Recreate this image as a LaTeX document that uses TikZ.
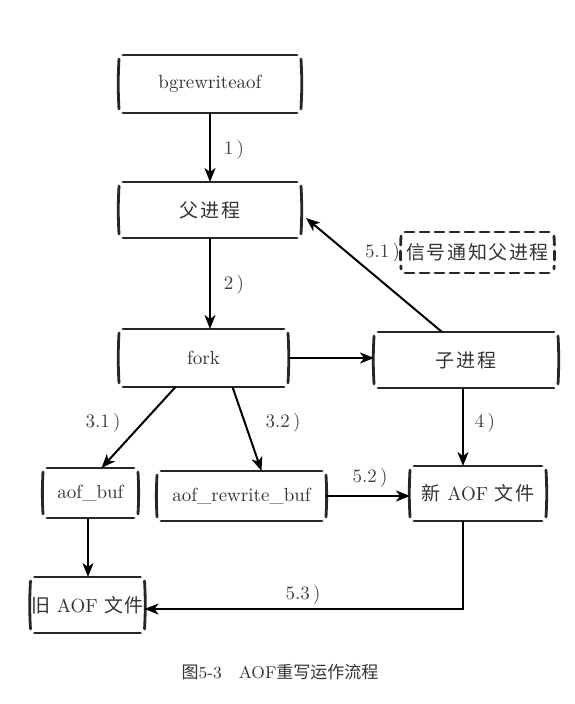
\documentclass[tikz,border=0pt]{standalone}
\usepackage{fontspec}
\newfontfamily\cjk{Noto Sans CJK SC}[LetterSpace=8]
\newfontfamily\capcjk{Noto Sans CJK SC}
\usetikzlibrary{arrows.meta}
\tikzset{
  sketchline/.style={line width=1.4pt,line cap=round,black!85},
  sketchbox/.style={inner sep=0pt,text=black!80,font=\fontsize{9.5}{11}\selectfont,
    append after command={
      ([xshift=2pt]\tikzlastnode.north west) edge[sketchline,#1] ([xshift=-2pt]\tikzlastnode.north east)
      ([xshift=2pt]\tikzlastnode.south west) edge[sketchline,#1] ([xshift=-2pt]\tikzlastnode.south east)
      ([yshift=-2pt]\tikzlastnode.north west) edge[sketchline,#1,bend right=3] ([yshift=2pt]\tikzlastnode.south west)
      ([yshift=-2pt]\tikzlastnode.north east) edge[sketchline,#1,bend left=3] ([yshift=2pt]\tikzlastnode.south east)}},
  sketchbox/.default=solid,
  lbl/.style={text=black!75,font=\fontsize{9.5}{11}\selectfont}
}
\begin{document}
\begin{tikzpicture}[x=0.5pt,y=-0.5pt,>={Stealth[length=7pt,width=5.5pt,inset=2pt]},line width=1pt]
  \useasboundingbox (0,0) rectangle (574,704);
  % boxes
  \node[sketchbox,minimum width=90pt,minimum height=28pt] (bg) at (210,84) {bgrewriteaof};
  \node[sketchbox,minimum width=90pt,minimum height=27pt] (parent) at (210,210) {\cjk 父进程};
  \node[sketchbox,minimum width=83.5pt,minimum height=28pt] (fork) at (203.5,358) {fork};
  \node[sketchbox,minimum width=91pt,minimum height=27pt] (child) at (466,360) {\cjk 子进程};
  \node[sketchbox={dash pattern=on 4.5pt off 3pt},minimum width=75.5pt,minimum height=19.5pt] (signal) at (477.5,252.5) {\cjk 信号通知父进程};
  \node[sketchbox,minimum width=46.5pt,minimum height=24pt] (abuf) at (90.5,493) {aof\_buf};
  \node[sketchbox,minimum width=83.5pt,minimum height=24pt] (rbuf) at (241.5,496) {aof\_rewrite\_buf};
  \node[sketchbox,minimum width=67pt,minimum height=26.5pt] (newaof) at (478,493.5) {{\cjk 新} AOF {\cjk 文件}};
  \node[sketchbox,minimum width=54.5pt,minimum height=27pt] (oldaof) at (87.5,605) {{\cjk 旧} AOF {\cjk 文件}};
  % arrows
  \draw[->] (bg) -- (parent);
  \draw[->] (parent.south) -- (parent.south |- fork.north);
  \draw[->] (fork.east) -- (fork.east -| child.west);
  \draw[->] ([xshift=-12pt]child.north) -- ([xshift=2.5pt,yshift=-4pt]parent.east);
  \draw[->] ([xshift=-14pt]fork.south) -- ([xshift=5.5pt]abuf.north);
  \draw[->] ([xshift=14.5pt]fork.south) -- ([xshift=10pt]rbuf.north);
  \draw[->] ([xshift=-1.5pt]child.south) -- ([xshift=-7.5pt]newaof.north);
  \draw[->] (rbuf.east) -- (rbuf.east -| newaof.west);
  \draw[->] ([xshift=-1.25pt]abuf.south) -- ([xshift=0.25pt]oldaof.north);
  \draw[->] ([xshift=-7.5pt]newaof.south) |- ([yshift=-2pt]oldaof.east);
  % labels
  \node[lbl] (l1) at (234,150) {1\,)};
  \node[lbl] (l2) at (234,285) {2\,)};
  \node[lbl] (l31) at (103,423) {3.1\,)};
  \node[lbl] (l32) at (283,423) {3.2\,)};
  \node[lbl] (l4) at (485,423) {4\,)};
  \node[lbl,anchor=east,inner sep=0pt] (l51) at (signal.west) {5.1\,)};
  \node[lbl] (l52) at (370,478) {5.2\,)};
  \node[lbl] (l53) at (303,595) {5.3\,)};
  \node[text=black!80,font=\fontsize{8.5}{10}\selectfont] (cap) at (280,672) {{\capcjk 图}5-3\quad AOF{\capcjk 重写运作流程}};
\end{tikzpicture}
\end{document}
